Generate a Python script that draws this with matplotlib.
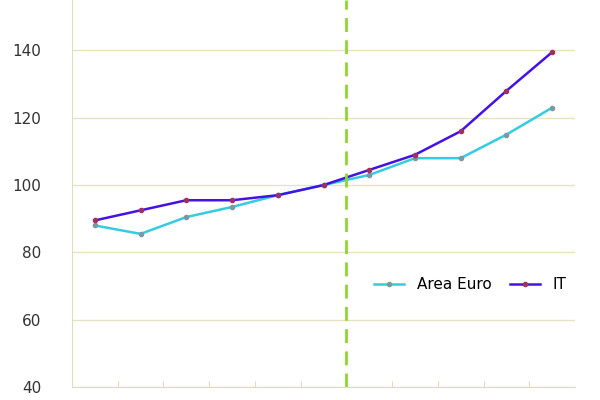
import matplotlib
matplotlib.use("Agg")
import matplotlib.pyplot as plt

# index values (base = 100), 11 periods
euro = [88, 85.5, 90.5, 93.5, 97, 100, 103, 108, 108, 115, 123]
italy = [89.5, 92.5, 95.5, 95.5, 97, 100, 104.5, 109, 116, 128, 139.5]
yticks = [40, 60, 80, 100, 120, 140]

fig = plt.figure(figsize=(6, 4), dpi=100)
ax = fig.add_axes([72 / 600, 13 / 400, 503 / 600, 387 / 400])

x = [i + 0.5 for i in range(len(euro))]
ax.plot(x, euro, color="#33cce0", lw=1.8, marker="o", ms=3,
        mfc="#7a9aa0", mec="#7a9aa0", label="Area Euro")
ax.plot(x, italy, color="#4412e4", lw=1.8, marker="o", ms=3,
        mfc="#a03060", mec="#a03060", label="IT")
ax.axvline(6, color="#8ed630", lw=2, ls=(0, (5, 3)))

ax.set_xlim(0, 11)
ax.set_ylim(40, 155)
ax.set_yticks(yticks)
ax.set_xticks(range(1, 11))
ax.set_xticklabels([])
ax.tick_params(axis="x", length=4, color="#e0dcc0", direction="in")
ax.tick_params(axis="y", length=0, labelsize=11, labelcolor="#333333", pad=22)
ax.grid(axis="y", color="#e6e2c6", lw=1)
for side in ["top", "right"]:
    ax.spines[side].set_visible(False)
for side in ["left", "bottom"]:
    ax.spines[side].set_color("#e0dcc0")
ax.legend(loc="lower right", bbox_to_anchor=(1.01, 0.21), frameon=False,
          ncol=2, fontsize=11, handlelength=2, columnspacing=1.2)

fig.savefig("out.png", dpi=100)
